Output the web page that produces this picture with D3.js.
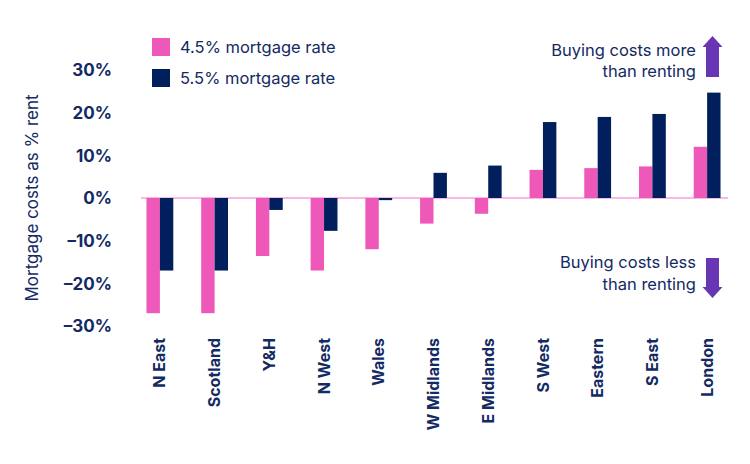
<!DOCTYPE html>
<html><head><meta charset="utf-8">
<script src="https://cdn.jsdelivr.net/npm/d3@7"></script>
<style>body{margin:0;background:#fff}svg{display:block}text{font-family:Inter,"Noto Sans",sans-serif}</style>
</head><body>
<svg id="c" width="750" height="464"></svg>
<script>
const categories = ["N East","Scotland","Y&H","N West","Wales","W Midlands","E Midlands","S West","Eastern","S East","London"];
const rate45 = [-27.0,-27.0,-13.6,-17.0,-12.0,-6.0,-3.7,6.6,7.0,7.4,12.0];
const rate55 = [-17.0,-17.0,-2.8,-7.7,-0.5,5.9,7.6,17.8,19.0,19.7,24.7];
const seriesNames = ["4.5% mortgage rate","5.5% mortgage rate"];
const yTicks = [-30,-20,-10,0,10,20,30];

const pink = "#ee59b9", navy = "#001f5c", textC = "#132a63", purple = "#6836b4", zeroC = "#f8a2dc";
const svg = d3.select("#c");

const x = d3.scaleBand().domain(categories).range([141, 726]).paddingInner(0.51).paddingOuter(0.1);
const xs = d3.scaleBand().domain([0,1]).range([0, x.bandwidth()]);
const y = d3.scaleLinear().domain([-30, 30]).range([326, 70]);

// y axis labels
const yAxis = svg.append("g").attr("transform", "translate(112,0)")
  .call(d3.axisLeft(y).tickValues(yTicks).tickSize(0).tickPadding(0).tickFormat(d => (d < 0 ? "\u2013" + Math.abs(d) : d) + "%"));
yAxis.select(".domain").remove();
yAxis.selectAll("text").attr("fill", textC).style("font-size", "17px").style("font-weight", "700").attr("dy", "0.35em");

// zero line
svg.append("line").attr("x1", 141).attr("x2", 728).attr("y1", y(0)).attr("y2", y(0)).attr("stroke", zeroC).attr("stroke-width", 1.5);

// bars
const series = [rate45, rate55];
const cols = [pink, navy];
series.forEach((vals, si) => {
  svg.append("g").selectAll("rect").data(vals).join("rect")
    .attr("x", (d, i) => x(categories[i]) + xs(si))
    .attr("width", xs.bandwidth())
    .attr("y", d => y(Math.max(0, d)))
    .attr("height", d => Math.abs(y(d) - y(0)))
    .attr("fill", cols[si]);
});

// x labels
const xAxis = svg.append("g").attr("transform", "translate(0,338)")
  .call(d3.axisBottom(x).tickSize(0).tickPadding(0));
xAxis.select(".domain").remove();
xAxis.selectAll("text").attr("fill", textC).style("font-size", "16px").style("font-weight", "700")
  .attr("transform", "rotate(-90)").attr("text-anchor", "end").attr("x", 0).attr("y", 0).attr("dy", "0.35em");

// y title
svg.append("text").attr("transform", "translate(38,198) rotate(-90)").attr("text-anchor", "middle")
  .attr("fill", textC).style("font-size", "17px").text("Mortgage costs as % rent");

// legend
const leg = svg.append("g");
seriesNames.forEach((n, i) => {
  leg.append("rect").attr("x", 152).attr("y", 38 + i * 31).attr("width", 18).attr("height", 18).attr("fill", cols[i]);
  leg.append("text").attr("x", 180).attr("y", 47 + i * 31).attr("dy", "0.35em").attr("fill", textC).style("font-size", "16.5px").text(n);
});

// annotations
function arrow(cx, top, bottom, up) {
  const hw = 10, sw = 6.5, hh = 11;
  let p;
  if (up) p = [[cx, top],[cx+hw, top+hh],[cx+sw, top+hh],[cx+sw, bottom],[cx-sw, bottom],[cx-sw, top+hh],[cx-hw, top+hh]];
  else p = [[cx, bottom],[cx+hw, bottom-hh],[cx+sw, bottom-hh],[cx+sw, top],[cx-sw, top],[cx-sw, bottom-hh],[cx-hw, bottom-hh]];
  svg.append("path").attr("d", d3.line()(p) + "Z").attr("fill", purple);
}
arrow(712.5, 36, 77, true);
arrow(712.5, 258, 298, false);
const ann = [["Buying costs more", 56], ["than renting", 77], ["Buying costs less", 268], ["than renting", 290]];
ann.forEach(([t, yy]) => svg.append("text").attr("x", 696).attr("y", yy).attr("text-anchor", "end")
  .attr("fill", textC).style("font-size", "16.5px").text(t));
</script>
</body></html>
